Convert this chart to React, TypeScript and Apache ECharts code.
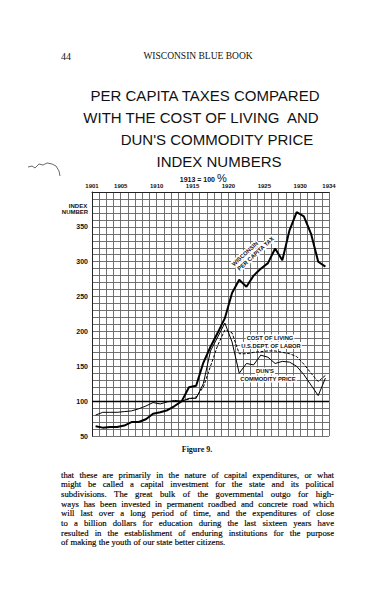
import React, { useEffect, useRef } from "react";
import * as echarts from "echarts";

// ---- data ----
const years = [1901, 1902, 1903, 1904, 1905, 1906, 1907, 1908, 1909, 1910, 1911, 1912, 1913, 1914, 1915, 1916, 1917, 1918, 1919, 1920, 1921, 1922, 1923, 1924, 1925, 1926, 1927, 1928, 1929, 1930, 1931, 1932, 1933];
const taxIndex = [64, 62, 63, 63, 65, 70, 70, 74, 82, 84, 87, 93, 100, 120, 122, 155, 178, 198, 219, 255, 274, 264, 280, 290, 298, 319, 302, 345, 371, 365, 340, 300, 293];
const dunsIndex = [80, 84, 84, 84, 85, 86, 89, 93, 98, 96, 99, 101, 100, 104, 104, 125, 172, 192, 212, 185, 140, 154, 152, 166, 163, 154, 157, 156, 150, 138, 123, 108, 133];
const costYears = [1913, 1914, 1915, 1916, 1917, 1918, 1919, 1920, 1921, 1922, 1923, 1924, 1925, 1926, 1927, 1928, 1929, 1930, 1931, 1932, 1933];
const costIndex = [100, 103, 106, 120, 150, 180, 202, 198, 168, 168, 170, 171, 172, 172, 170, 168, 164, 153, 140, 128, 137];
const yearLabels = [1901, 1905, 1910, 1915, 1920, 1925, 1930, 1934];
const indexLabels = [50, 100, 150, 200, 250, 300, 350];

const pageNumber = "44";
const runningHead = "WISCONSIN BLUE BOOK";
const titleLines = [
  "PER CAPITA TAXES COMPARED",
  "WITH THE COST OF LIVING  AND",
  "DUN'S COMMODITY PRICE",
  "INDEX NUMBERS",
];
const baseNote = "1913 = 100";
const figureCaption = "Figure 9.";
const paragraphLines = [
  "that these are primarily in the nature of capital expenditures, or what",
  "might be called a capital investment for the state and its political",
  "subdivisions.  The great bulk of the governmental outgo for high-",
  "ways has been invested in permanent roadbed and concrete road which",
  "will last over a long period of time, and the expenditures of close",
  "to a billion dollars for education during the last sixteen years have",
  "resulted in the establishment of enduring institutions for the purpose",
  "of making the youth of our state better citizens.",
];

const SANS = "'Liberation Sans', Arial, sans-serif";
const SERIF = "'Liberation Serif', 'Times New Roman', serif";

function measureFactory() {
  const c = document.createElement("canvas");
  const ctx = c.getContext("2d") as CanvasRenderingContext2D;
  return (text: string, font: string) => {
    ctx.font = font;
    return ctx.measureText(text).width;
  };
}

export default function App() {
  const ref = useRef<HTMLDivElement>(null);

  useEffect(() => {
    document.body.style.margin = "0";
    if (!ref.current) return;
    const chart = echarts.init(ref.current, undefined, { renderer: "svg" });
    const measure = measureFactory();

    const ink = "#111";
    const graphics: any[] = [];

    // header
    graphics.push({ type: "text", x: 66, y: 56, style: { text: pageNumber, font: `10px ${SERIF}`, fill: ink, textAlign: "center", textVerticalAlign: "middle" } });
    graphics.push({ type: "text", x: 198, y: 56, style: { text: runningHead, font: `9.5px ${SERIF}`, fill: ink, textAlign: "center", textVerticalAlign: "middle" } });

    // title
    const titleCenters = [[205, 95], [201, 117], [217, 139], [219, 161]];
    titleLines.forEach((t, i) => {
      graphics.push({ type: "text", x: titleCenters[i][0], y: titleCenters[i][1], style: { text: t, font: `15px ${SANS}`, fill: ink, textAlign: "center", textVerticalAlign: "middle" } });
    });
    graphics.push({ type: "text", x: 215, y: 179, style: { text: baseNote, font: `bold 7px ${SANS}`, fill: ink, textAlign: "right", textVerticalAlign: "middle" } });
    graphics.push({ type: "text", x: 217, y: 178, style: { text: "%", font: `11px ${SANS}`, fill: ink, textAlign: "left", textVerticalAlign: "middle" } });

    // squiggle mark
    graphics.push({ type: "polyline", shape: { points: [[28, 167], [32, 166], [35, 168], [39, 164], [43, 165], [47, 163], [52, 164], [56, 166], [59, 171], [60, 176]] }, style: { stroke: "#444", lineWidth: 0.8, fill: "none" } });

    // y axis title
    graphics.push({ type: "text", x: 78, y: 206, style: { text: "INDEX", font: `bold 6px ${SANS}`, fill: ink, textAlign: "center", textVerticalAlign: "middle" } });
    graphics.push({ type: "text", x: 75, y: 212, style: { text: "NUMBER", font: `bold 6px ${SANS}`, fill: ink, textAlign: "center", textVerticalAlign: "middle" } });

    // series labels
    const labStyle = (text: string) => ({ text, font: `bold 5.8px ${SANS}`, fill: ink, textAlign: "center", textVerticalAlign: "middle", backgroundColor: "#fff", padding: [0.5, 1] });
    const lab = (text: string, x: number, y: number) => ({ type: "text", x, y, z: 10, style: labStyle(text) });
    graphics.push({
      type: "group", x: 251, y: 253, rotation: 0.74, z: 10,
      children: [
        { type: "text", x: -5, y: -3.6, z: 10, style: labStyle("WISCONSIN") },
        { type: "text", x: 3, y: 3.6, z: 10, style: labStyle("PER CAPITA TAX") },
      ],
    });
    graphics.push(lab("COST OF LIVING", 270, 338));
    graphics.push(lab("U.S.DEPT. OF LABOR", 271, 345.5));
    graphics.push(lab("DUN'S", 265, 371));
    graphics.push(lab("COMMODITY PRICE", 268, 379));

    // caption
    graphics.push({ type: "text", x: 197, y: 449, style: { text: figureCaption, font: `bold 8px ${SERIF}`, fill: ink, textAlign: "center", textVerticalAlign: "middle" } });

    // justified paragraph
    const pFont = `8.7px ${SERIF}`;
    const left = 61, right = 334, top = 474.8, step = 9.63;
    paragraphLines.forEach((line, i) => {
      const y = top + i * step;
      if (i === paragraphLines.length - 1) {
        graphics.push({ type: "text", x: left, y, style: { text: line, font: pFont, fill: "#000", textAlign: "left", textVerticalAlign: "middle", stroke: "#000", lineWidth: 0.15 } });
        return;
      }
      const words = line.split(/\s+/);
      const widths = words.map((w) => measure(w, pFont));
      const total = widths.reduce((a, b) => a + b, 0);
      const gap = (right - left - total) / (words.length - 1);
      let x = left;
      words.forEach((w, k) => {
        graphics.push({ type: "text", x, y, style: { text: w, font: pFont, fill: "#000", textAlign: "left", textVerticalAlign: "middle", stroke: "#000", lineWidth: 0.15 } });
        x += widths[k] + gap;
      });
    });

    const gridLine = { color: "#626262", width: 0.9 };

    chart.setOption({
      animation: false,
      backgroundColor: "#fff",
      grid: { left: 92, top: 192, width: 237, height: 244, show: false },
      xAxis: {
        type: "value", min: 1901, max: 1934, interval: 1, position: "top",
        axisLine: { show: true, lineStyle: { color: "#222", width: 1 } },
        axisTick: { show: false },
        splitLine: { show: true, lineStyle: gridLine },
        axisLabel: {
          margin: 3, fontSize: 6, fontWeight: "bold", color: ink, fontFamily: SANS,
          showMinLabel: true, showMaxLabel: true, hideOverlap: false,
          formatter: (v: number) => (yearLabels.includes(v) ? String(v) : ""),
        },
      },
      yAxis: {
        type: "value", min: 50, max: 400, interval: 10,
        axisLine: { show: true, lineStyle: { color: "#222", width: 1 } },
        axisTick: { show: false },
        splitLine: { show: true, lineStyle: gridLine },
        axisLabel: {
          margin: 4, fontSize: 7, fontWeight: "bold", color: ink, fontFamily: SANS,
          formatter: (v: number) => (indexLabels.includes(v) ? String(v) : ""),
        },
      },
      series: [
        {
          name: "Wisconsin per capita tax", type: "line", showSymbol: false,
          data: years.map((y, i) => [y + 0.5, taxIndex[i]]),
          lineStyle: { color: "#000", width: 2 },
          z: 5,
          markLine: {
            silent: true, symbol: "none", label: { show: false },
            lineStyle: { color: "#000", width: 1.4, type: "solid" },
            data: [{ yAxis: 100 }],
          },
        },
        {
          name: "Cost of living", type: "line", showSymbol: false,
          data: costYears.map((y, i) => [y + 0.5, costIndex[i]]),
          lineStyle: { color: "#000", width: 1, type: [3, 1.5] },
          z: 4,
        },
        {
          name: "Dun's commodity price", type: "line", showSymbol: false,
          data: years.map((y, i) => [y + 0.5, dunsIndex[i]]),
          lineStyle: { color: "#000", width: 1 },
          z: 4,
        },
      ],
      graphic: graphics,
    });

    return () => chart.dispose();
  }, []);

  return <div ref={ref} style={{ position: "absolute", left: 0, top: 0, width: 373, height: 599, background: "#fff" }} />;
}
